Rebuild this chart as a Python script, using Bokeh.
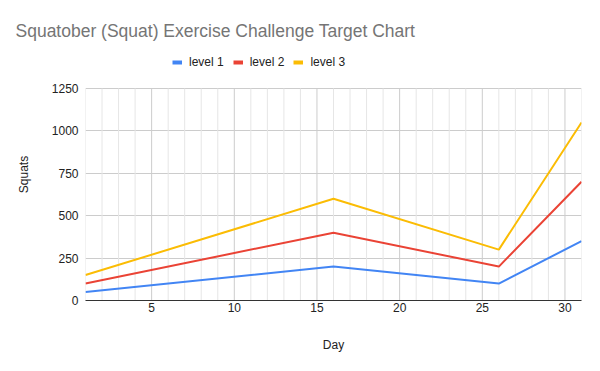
from bokeh.plotting import figure
from bokeh.embed import file_html
from bokeh.resources import INLINE
from bokeh.models import Legend, LegendItem, Range1d

days = [1, 16, 26, 31]
level1 = [50, 200, 100, 350]
level2 = [100, 400, 200, 700]
level3 = [150, 600, 300, 1050]
series_names = ["level 1", "level 2", "level 3"]
colors = ["#4285F4", "#EA4335", "#FBBC04"]
x_ticks = [5, 10, 15, 20, 25, 30]
y_ticks = [0, 250, 500, 750, 1000, 1250]
grid_days = list(range(1, 32))

FONT = "Liberation Sans"
Y_MAX = 1250
FRAME_TOP = 48      # canvas px where the frame begins
AXIS_TOP = 88       # canvas px where y=1250 should sit
AXIS_BOTTOM = 300   # canvas px of y=0
y_end = Y_MAX * (AXIS_BOTTOM - FRAME_TOP) / (AXIS_BOTTOM - AXIS_TOP)

p = figure(frame_width=496, frame_height=AXIS_BOTTOM - FRAME_TOP,
           output_backend="svg", toolbar_location=None,
           x_range=Range1d(1, 31), y_range=Range1d(0, y_end),
           min_border_left=85, min_border_right=3, min_border_top=FRAME_TOP, min_border_bottom=63)
p.outline_line_color = None

p.title.text = "Squatober (Squat) Exercise Challenge Target Chart"
p.title.text_font = FONT
p.title.text_font_size = "17.5px"
p.title.text_font_style = "normal"
p.title.text_color = "#757575"
p.title.align = "left"
p.title.offset = -70
p.title.standoff = 16

# vertical grid lines limited to the axis range
minor_days = [d for d in grid_days if d % 5 != 0]
major_days = [d for d in grid_days if d % 5 == 0]
p.segment(x0=minor_days, x1=minor_days, y0=[0] * len(minor_days), y1=[Y_MAX] * len(minor_days),
          line_color="#e6e6e6", line_width=1)
p.segment(x0=major_days, x1=major_days, y0=[0] * len(major_days), y1=[Y_MAX] * len(major_days),
          line_color="#cccccc", line_width=1)

legend_items = []
for vals, name, c in zip([level1, level2, level3], series_names, colors):
    p.line(days, vals, line_color=c, line_width=2)
    swatch = p.line(x=[float("nan")], y=[float("nan")], line_color=c, line_width=4)
    legend_items.append(LegendItem(label=name, renderers=[swatch]))

legend = Legend(items=legend_items, orientation="horizontal",
                location=(87, 231),
                label_text_font=FONT, label_text_font_size="12px", label_text_color="#222222",
                glyph_width=10, glyph_height=12, spacing=9, label_standoff=7,
                border_line_color=None, background_fill_alpha=0, padding=0, margin=0)
p.add_layout(legend)

p.xaxis.ticker = x_ticks
p.xaxis.axis_label = "Day"
p.yaxis.ticker = y_ticks
p.yaxis.axis_label = "Squats"
for ax in (p.xaxis[0], p.yaxis[0]):
    ax.axis_label_text_font = FONT
    ax.axis_label_text_font_size = "12px"
    ax.axis_label_text_font_style = "normal"
    ax.axis_label_text_color = "#222222"
    ax.major_label_text_font = FONT
    ax.major_label_text_font_size = "12px"
    ax.major_label_text_color = "#222222"
    ax.major_tick_line_color = None
    ax.minor_tick_line_color = None
    ax.major_tick_out = 0
    ax.major_tick_in = 0
    ax.minor_tick_out = 0
    ax.minor_tick_in = 0
p.yaxis.axis_line_color = None
p.xaxis.axis_line_color = "#333333"
p.xaxis.major_label_standoff = 2
p.xaxis.axis_label_standoff = 23
p.yaxis.major_label_standoff = 7
p.yaxis.axis_label_standoff = 18

p.xgrid.grid_line_color = None
p.ygrid.ticker = y_ticks
p.ygrid.grid_line_color = "#cccccc"

open("out.html", "w").write(file_html(p, INLINE))
